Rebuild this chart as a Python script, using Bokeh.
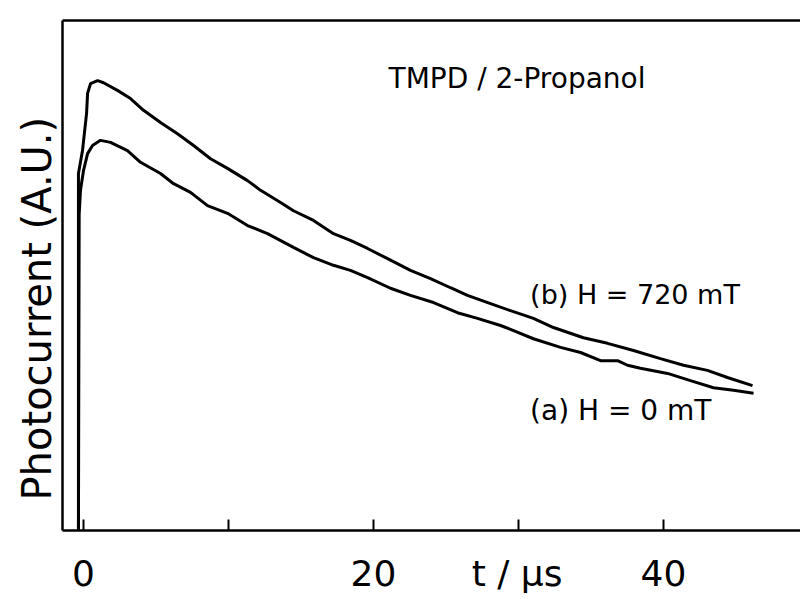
import math
from bokeh.plotting import figure
from bokeh.models import LinearAxis, Range1d, FixedTicker, Label, Title
from bokeh.embed import file_html
from bokeh.resources import INLINE

# ---- data ----
# (b) H = 720 mT
t_b = [-0.35, -0.35, -0.07, 0.21, 0.28, 0.48, 0.97, 1.38, 2.34, 3.24, 4.14, 5.31, 6.48, 7.59,
       8.76, 9.93, 11.31, 12.21, 13.59, 14.48, 15.86, 17.24, 18.41, 19.59, 20.97, 22.55,
       23.93, 25.31, 26.48, 28.07, 29.45, 31.03, 32.41, 34.48, 36.14, 37.93, 39.79, 41.38,
       43.03, 44.41, 46.14]
i_b = [0.0, 70.0, 74.5, 81.8, 85.7, 87.6, 88.2, 87.8, 86.3, 84.7, 82.4, 80.0, 77.8, 75.5,
       72.9, 71.0, 68.6, 66.7, 64.3, 62.7, 60.8, 58.2, 56.9, 55.3, 53.3, 51.0,
       49.4, 47.6, 46.1, 44.5, 43.1, 41.6, 39.8, 37.8, 36.7, 35.3, 33.7, 32.4,
       31.4, 30.0, 28.4]

# (a) H = 0 mT
t_a = [-0.35, -0.3, -0.21, 0.0, 0.28, 0.62, 1.17, 1.86, 3.03, 3.93, 5.31, 6.21, 7.38, 8.55,
       9.93, 11.31, 12.69, 14.48, 15.86, 17.24, 18.41, 19.59, 21.17, 22.55, 24.14, 25.79,
       27.17, 28.76, 29.66, 31.03, 32.9, 34.28, 35.66, 36.83, 37.52, 38.41, 40.28, 41.86,
       43.45, 44.83, 46.21]
i_a = [0.0, 62.0, 66.7, 70.6, 73.9, 75.5, 76.5, 76.1, 74.5, 72.2, 70.0, 68.0, 66.3, 63.7,
       62.2, 59.8, 58.2, 55.5, 53.5, 52.0, 51.0, 49.6, 47.5, 46.1, 44.7, 42.7,
       41.6, 40.2, 39.2, 37.6, 35.9, 34.9, 33.3, 33.3, 32.4, 31.8, 30.8, 29.4,
       28.0, 27.5, 26.9]

x_label_ticks = [0, 20, 40]
x_minor_ticks = [0, 10, 20, 30, 40]
x_title = "t / μs"
x_title_pos = 29.9
y_title = "Photocurrent  (A.U.)"

FONT = "DejaVu Sans"

p = figure(width=800, height=599, output_backend="svg", toolbar_location=None,
           x_range=Range1d(-1.45, 49.45), y_range=Range1d(0, 100),
           x_axis_location=None, y_axis_location=None,
           min_border_left=62, min_border_top=20, min_border_bottom=69, min_border_right=0)
p.outline_line_color = None
p.grid.visible = False
p.background_fill_color = "white"
p.border_fill_color = "white"

# bottom axis: labels at 0/20/40, axis title as a label at its own spot, inward marks at 0..40
overrides = {v: str(v) for v in x_label_ticks}
overrides[x_title_pos] = x_title
xb = LinearAxis(ticker=FixedTicker(ticks=x_label_ticks + [x_title_pos], minor_ticks=x_minor_ticks),
                major_label_overrides=overrides)
xb.axis_line_width = 2.5
xb.axis_line_color = "black"
xb.major_tick_line_color = None
xb.minor_tick_in = 11
xb.minor_tick_out = 0
xb.minor_tick_line_width = 2
xb.minor_tick_line_color = "black"
xb.major_label_standoff = 16
xb.major_label_text_font = FONT
xb.major_label_text_font_size = "36px"
xb.major_label_text_color = "black"
p.add_layout(xb, "below")

# left axis: line only
yl = LinearAxis(ticker=FixedTicker(ticks=[], minor_ticks=[]))
yl.axis_line_width = 2.5
yl.axis_line_color = "black"
yl.major_tick_line_color = None
yl.minor_tick_line_color = None
yl.major_label_text_font_size = "0px"
yl.major_label_standoff = 0
p.add_layout(yl, "left")

# y title as a side title
p.add_layout(Title(text=y_title, align="left", offset=30, standoff=6, text_font=FONT,
                   text_font_size="40px", text_font_style="normal", text_color="black"), "left")

# top axis: line only
xt = LinearAxis(ticker=FixedTicker(ticks=[], minor_ticks=[]))
xt.axis_line_width = 2.5
xt.axis_line_color = "black"
xt.major_label_text_font_size = "0px"
xt.major_label_standoff = 0
xt.minor_tick_line_color = None
xt.major_tick_line_color = None
p.add_layout(xt, "above")

p.line(t_b, i_b, line_color="black", line_width=3)
p.line(t_a, i_a, line_color="black", line_width=3)

p.add_layout(Label(x=29.9, y=88.6, text="TMPD / 2-Propanol", text_font=FONT, text_color="black",
                   text_font_size="28px", text_align="center", text_baseline="middle"))
p.add_layout(Label(x=30.8, y=46.3, text="(b) H = 720 mT", text_font=FONT, text_color="black",
                   text_font_size="27px", text_align="left", text_baseline="middle"))
p.add_layout(Label(x=30.8, y=23.5, text="(a) H = 0 mT", text_font=FONT, text_color="black",
                   text_font_size="28px", text_align="left", text_baseline="middle"))

open("out.html", "w").write(file_html(p, INLINE))
